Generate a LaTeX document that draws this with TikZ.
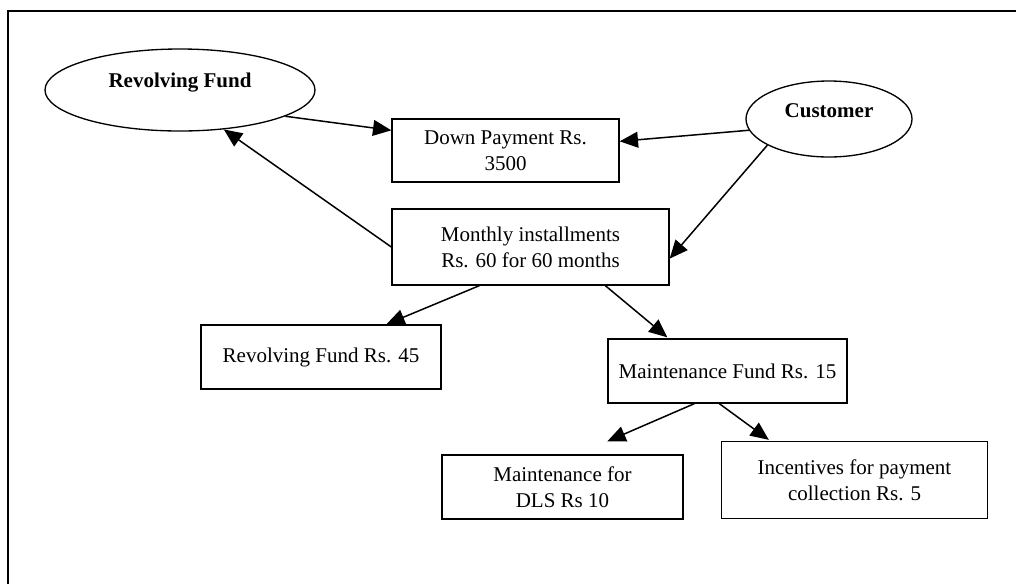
\documentclass[tikz,border=0pt]{standalone}
\usepackage{fontspec}
\setmainfont{Liberation Serif}
\usetikzlibrary{arrows.meta,calc,positioning,shapes.geometric}

\begin{document}
\begin{tikzpicture}[x=0.6pt,y=-0.6pt,
	font=\fontsize{12.6}{15.6}\selectfont,
	box/.style={draw,line width=0.8pt,rectangle,align=center,inner sep=0pt},
	bubble/.style={draw,line width=0.8pt,ellipse,inner sep=0pt},
	flow/.style={line width=0.9pt,-{Triangle[length=11pt,width=9.5pt]}}]
		\useasboundingbox (0,0) rectangle (1016,583);
		\draw[line width=0.9pt] (8,590) -- (8,11) -- (1030,11);
		% the two sources
		\node[bubble,minimum width=162pt,minimum height=49.2pt] (fund) at (180,90) {};
		\node (fundtxt) at (180,83) {\bfseries Revolving Fund};
		\node[bubble,minimum width=99.6pt,minimum height=45.6pt] (cust) at (829,119) {};
		\node (custtxt) at (829,111) {\bfseries Customer};
		% payments
		\node[box,minimum width=136.2pt,minimum height=37.8pt] (down) at (505.5,150.5) {Down Payment Rs.\\3500};
		\node[box,minimum width=166.2pt,minimum height=45.6pt] (monthly) at (530.5,247) {Monthly installments\\Rs. 60 for 60 months};
		% split of the installment
		\node[box,minimum width=144pt,minimum height=38.4pt] (rf45) at (321,357) {Revolving Fund Rs. 45};
		\node[box,minimum width=143.4pt,minimum height=38.4pt] (mf15) at (727.5,371) {Maintenance Fund Rs. 15};
		\node[box,minimum width=144.6pt,minimum height=38.4pt] (dls) at (562.5,487) {Maintenance for\\DLS Rs 10};
		\node[box,minimum width=159.6pt,minimum height=46.2pt] (incent) at (854.5,480) {Incentives for payment\\collection Rs. 5};
		% arrows
		\draw[flow] (fund.-14) -- ($(down.north west)+(0,12)$);
		\draw[flow] (monthly.west) -- (fund.-42);
		\draw[flow] (cust.188) -- ($(down.north east)+(0,23)$);
		\draw[flow] (cust.203) -- ($(monthly.south east)+(0,-27)$);
		\draw[flow] ($(monthly.south west)+(88,0)$) -- ($(rf45.north west)+(186,0)$);
		\draw[flow] ($(monthly.south west)+(214,0)$) -- ($(mf15.north west)+(60,-1)$);
		\draw[flow] ($(mf15.south west)+(87,0)$) -- ($(dls.north west)+(166,-13)$);
		\draw[flow] ($(mf15.south west)+(112,0)$) -- ($(incent.north west)+(48,-1)$);
\end{tikzpicture}
\end{document}
